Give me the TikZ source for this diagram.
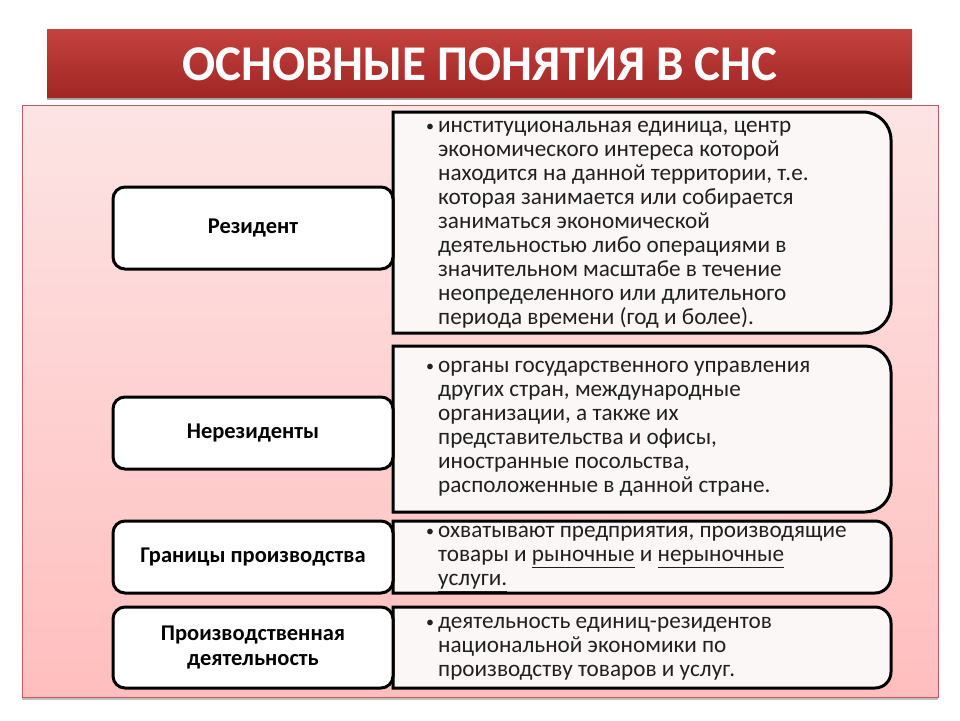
\documentclass[tikz,border=0pt]{standalone}
\usepackage{fontspec}
\setmainfont{Carlito}
\definecolor{titletop}{RGB}{196,66,63}
\definecolor{titlebot}{RGB}{160,38,36}
\definecolor{paneltop}{RGB}{253,228,228}
\definecolor{panelbot}{RGB}{255,190,190}
\definecolor{panelline}{RGB}{196,90,90}
\definecolor{descfill}{RGB}{252,247,247}
\definecolor{bodytext}{RGB}{32,32,32}
\tikzset{
  termbox/.style={draw=black, line width=3pt, fill=white, rounded corners=12pt,
    minimum width=280pt, align=center, font=\bfseries\fontsize{22.5}{24.5}\selectfont, text=black},
  descbox/.style={draw=black, line width=3pt, fill=descfill},
  desctext/.style={anchor=west, inner sep=0pt, align=left, text=bodytext,
    font=\fontsize{23.2}{24}\selectfont},
}
\newcommand{\descshape}[5]{% x1 y1 x2 y2 R
  \path[descbox] (#1,#4) -- (#1,#2) -- ({#3-#5},#2) arc[start angle=-90,end angle=0,radius=#5]
    -- (#3,{#4-#5}) arc[start angle=0,end angle=90,radius=#5] -- cycle;}
\newcommand{\bul}{{\fontsize{16}{16}\selectfont\raisebox{1.5pt}{•}}}
\newcommand{\blt}[1]{\begin{tabular}{@{}l@{\hspace{4pt}}l@{}}#1\end{tabular}}
\begin{document}
\begin{tikzpicture}[x=1pt,y=-1pt]
\useasboundingbox (0,0) rectangle (960,720);
\fill[white] (0,0) rectangle (960,720);
% title bar
\fill[black!35] (47,31) rectangle (912,100);
\shade[top color=titletop, bottom color=titlebot] (47,29) rectangle (912,97);
\node[text=white, font=\bfseries\fontsize{50}{56}\selectfont] (title) at (480,64)
  {\scalebox{0.98}[1]{ОСНОВНЫЕ ПОНЯТИЯ В СНС}};
% panel
\fill[black!25] (22,107) rectangle (938,700);
\shade[top color=paneltop, bottom color=panelbot, draw=panelline, line width=0.8pt]
  (22,105) rectangle (938,697);
% description boxes
\descshape{393}{112}{891}{333}{28}
\descshape{393}{346}{891}{512}{26}
\descshape{393}{521}{891}{593}{16}
\descshape{393}{607}{891}{688}{16}
% term boxes
\node[termbox, minimum height=82pt] (rez) at (253,228) {Резидент};
\node[termbox, minimum height=72pt] (nerez) at (253,433) {Нерезиденты};
\node[termbox, minimum height=72pt] (gran) at (253,557) {Границы производства};
\node[termbox, minimum height=81pt] (proizv) at (253,647.5) {Производственная\\деятельность};
% texts
\node[desctext] (t1) at (426,224) {\blt{\bul&институциональная единица, центр\\
 &экономического интереса которой\\
 &находится на данной территории, т.е.\\
 &которая занимается или собирается\\
 &заниматься экономической\\
 &деятельностью либо операциями в\\
 &значительном масштабе в течение\\
 &неопределенного или длительного\\
 &периода времени (год и более).}};
\node[desctext] (t2) at (426,428) {\blt{\bul&органы государственного управления\\
 &других стран, международные\\
 &организации, а также их\\
 &представительства и офисы,\\
 &иностранные посольства,\\
 &расположенные в данной стране.}};
\node[desctext] (t3) at (426,557) {\blt{\bul&охватывают предприятия, производящие\\
 &товары и \underline{рыночные} и \underline{нерыночные}\\
 &\underline{услуги.}}};
\node[desctext] (t4) at (426,648) {\blt{\bul&деятельность единиц-резидентов\\
 &национальной экономики по\\
 &производству товаров и услуг.}};
\end{tikzpicture}
\end{document}
